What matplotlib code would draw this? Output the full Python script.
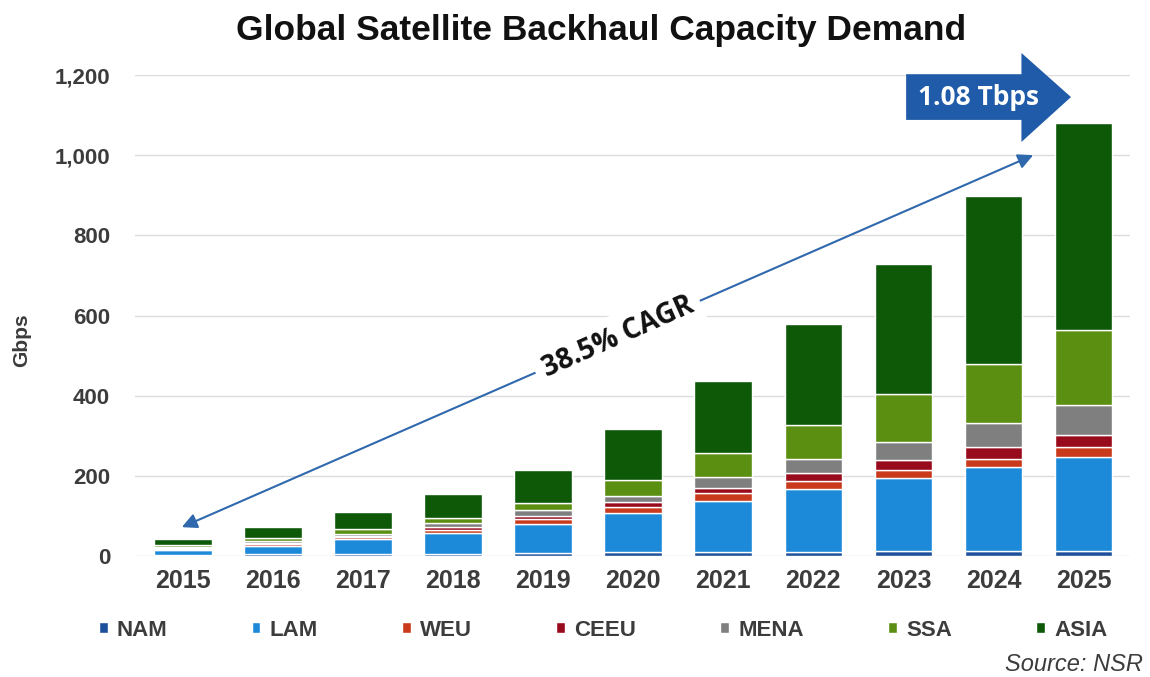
import matplotlib
matplotlib.use("Agg")
import matplotlib.pyplot as plt
from matplotlib.patches import Polygon
from matplotlib.ticker import FuncFormatter
import numpy as np

# Capacity demand by region, Gbps
years = ["2015", "2016", "2017", "2018", "2019", "2020",
         "2021", "2022", "2023", "2024", "2025"]
NAM  = [3, 4, 5, 6, 8, 10, 10, 11, 12, 12, 12]
LAM  = [12, 22, 37, 52, 72, 98, 128, 155, 182, 210, 235]
WEU  = [3, 4, 5, 8, 12, 15, 18, 22, 21, 21, 24]
CEEU = [2, 3, 4, 6, 9, 12, 13, 18, 24, 29, 30]
MENA = [3, 4, 5, 11, 13, 14, 29, 37, 46, 59, 77]
SSA  = [4, 8, 11, 13, 18, 40, 58, 85, 118, 147, 185]
ASIA = [15, 27, 42, 58, 82, 127, 180, 250, 326, 421, 517]

regions = ["NAM", "LAM", "WEU", "CEEU", "MENA", "SSA", "ASIA"]
series = [NAM, LAM, WEU, CEEU, MENA, SSA, ASIA]
colors = ["#1d4f9a", "#1c8ad9", "#c93a1c", "#980b1d", "#7f7f7f", "#5b8f12", "#0d5908"]

cagr_label = "38.5% CAGR"
peak_label = "1.08 Tbps"

fig = plt.figure(figsize=(11.5, 6.77), dpi=100)
ax = fig.add_axes([0.1174, 0.1787, 0.8656, 0.7105])

x = np.arange(len(years))
bottom = np.zeros(len(years))
for name, vals, col in zip(regions, series, colors):
    vals = np.array(vals, dtype=float)
    ax.bar(x, vals, width=0.64, bottom=bottom, color=col, label=name,
           edgecolor="white", linewidth=1.0, zorder=3)
    bottom += vals

ax.set_xlim(-0.53, 10.52)
ax.set_ylim(0, 1200)
ax.set_yticks(np.arange(0, 1201, 200))
ax.yaxis.set_major_formatter(FuncFormatter(lambda v, p: f"{int(v):,}"))
ax.set_xticks(x)
ax.set_xticklabels(years)
for s in ax.spines.values():
    s.set_visible(False)
ax.grid(axis="y", color="#dcdcdc", linewidth=1.0, zorder=0)
ax.tick_params(axis="both", length=0, colors="#3c3c3c")
ax.tick_params(axis="y", pad=18)
ax.tick_params(axis="x", pad=9)
for lab in ax.get_xticklabels():
    lab.set_fontfamily("Liberation Sans")
    lab.set_fontweight("bold")
    lab.set_fontsize(18)
for lab in ax.get_yticklabels():
    lab.set_fontfamily("Liberation Sans")
    lab.set_fontweight("bold")
    lab.set_fontsize(16)

fig.text(0.019, 1 - 340 / 677, "Gbps", rotation=90, ha="center", va="center",
         fontsize=15, fontweight="bold", family="Liberation Sans", color="#3c3c3c")

fig.text(0.523, 0.955, "Global Satellite Backhaul Capacity Demand", ha="center",
         va="center", fontsize=25.5, fontweight="bold", family="Liberation Sans",
         color="#111111")

# Growth arrow between the first and last years
ax.annotate("", xy=(9.44, 1000), xytext=(-0.01, 72),
            arrowprops=dict(arrowstyle="<|-|>,head_length=0.9,head_width=0.45",
                            color="#2f68ad", lw=1.5, shrinkA=0, shrinkB=0),
            zorder=4)
ax.text(4.83, 546, cagr_label, rotation=24, rotation_mode="anchor",
        ha="center", va="center", fontsize=20, fontweight="bold",
        family="Open Sans", color="#111111", zorder=5,
        bbox=dict(boxstyle="square,pad=0.3", fc="white", ec="none"))

# Block arrow carrying the 2025 total
arrow_pts = [(8.03, 1088), (9.31, 1088), (9.31, 1033), (9.86, 1145),
             (9.31, 1255), (9.31, 1202), (8.03, 1202)]
ax.add_patch(Polygon(arrow_pts, closed=True, fc="#1f5ba8", ec="none",
                     clip_on=False, zorder=6))
ax.text(8.83, 1143, peak_label, ha="center", va="center", fontsize=19,
        fontweight="bold", family="Open Sans", color="white", zorder=7,
        clip_on=False)

leg = fig.legend(loc="center", bbox_to_anchor=(603 / 1150, 0.069), ncol=7,
                 frameon=False, handlelength=0.4, handleheight=0.4,
                 handletextpad=0.4, columnspacing=3.8,
                 prop={"family": "Liberation Sans", "size": 16, "weight": "bold"})
for t in leg.get_texts():
    t.set_color("#3c3c3c")

fig.text(0.994, 0.018, "Source: NSR", ha="right", va="center", fontsize=17,
         style="italic", family="Liberation Sans", color="#3c3c3c")

fig.savefig("out.png", dpi=100, facecolor="white")
